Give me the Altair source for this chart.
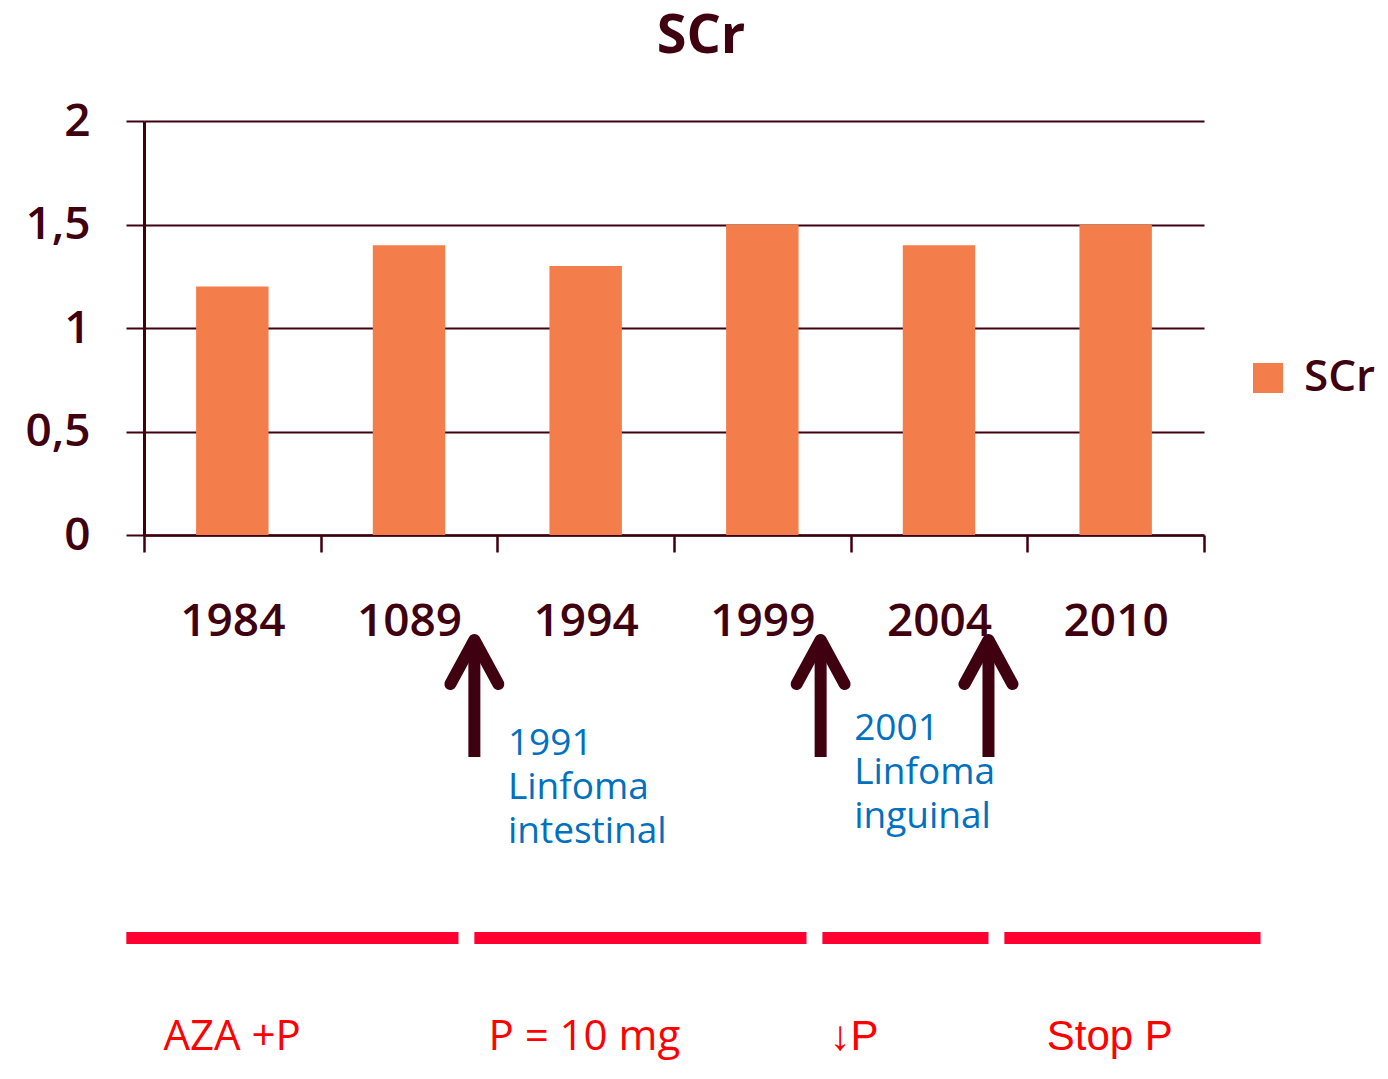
import altair as alt
import pandas as pd

# ---------------- data ----------------
years = ["1984", "1089", "1994", "1999", "2004", "2010"]
scr_values = [1.2, 1.4, 1.3, 1.5, 1.4, 1.5]
series_name = "SCr"
y_ticks = [0, 0.5, 1, 1.5, 2]

# events below the axis (x in "year slot" units 0..6, y in SCr units)
event_x = [1.87, 3.83, 4.78]
event_text = ["1991\nLinfoma\nintestinal", "2001\nLinfoma\ninguinal"]
event_text_x = [2.06, 4.02]
event_text_y = [-1.063, -0.99]

# therapy phases
phase_start = [-0.10, 1.87, 3.84, 4.87]
phase_end = [1.78, 3.75, 4.78, 6.32]
phase_labels = ["AZA +P", "P = 10 mg", "\u2193P", "Stop P"]
phase_label_x = [0.11, 1.95, 3.88, 5.11]
phase_label_sans = [False, False, True, True]

MAROON = "#3F0010"
ORANGE = "#F47E4B"
BLUE = "#0070C0"
RED = "#FF0030"

ARROW_TIP = -0.507
ARROW_BASE = -1.072
ARROW_HEAD = -0.72
ARROW_HALF = 0.136
LINE_Y = -1.947
LABEL_Y = -2.49

bars_df = pd.DataFrame({"year": years, "SCr": scr_values, "serie": [series_name] * len(years)})

shaft_df = pd.DataFrame({"x": event_x, "y0": [ARROW_BASE] * 3, "y1": [ARROW_TIP - 0.03] * 3})
head_rows = []
for i, x in enumerate(event_x):
    head_rows += [
        {"id": i, "o": 0, "x": x - ARROW_HALF, "y": ARROW_HEAD},
        {"id": i, "o": 1, "x": x, "y": ARROW_TIP},
        {"id": i, "o": 2, "x": x + ARROW_HALF, "y": ARROW_HEAD},
    ]
head_df = pd.DataFrame(head_rows)
event_df = pd.DataFrame({"x": event_text_x, "y": event_text_y, "t": event_text})
phase_df = pd.DataFrame({"x0": phase_start, "x1": phase_end, "y": [LINE_Y] * 4})
plabel_df = pd.DataFrame({"x": phase_label_x, "y": [LABEL_Y] * 4, "t": phase_labels,
                          "sans": phase_label_sans})

XQ = alt.Scale(domain=[0, 6], nice=False, zero=False)
YQ = alt.Scale(domain=[0, 2], nice=False, zero=False)

bars = alt.Chart(bars_df).mark_bar(width=alt.RelativeBandSize(0.41)).encode(
    x=alt.X("year:N", sort=years, scale=alt.Scale(paddingInner=0, paddingOuter=0),
            axis=alt.Axis(title=None, labelAngle=0, labelFontSize=46, labelColor=MAROON,
                          labelFont="Open Sans", labelFontWeight=600, labelPadding=47,
                          tickSize=17, tickWidth=2.5, tickColor=MAROON, tickBand="extent",
                          domainColor=MAROON, domainWidth=2.5, grid=False)),
    y=alt.Y("SCr:Q", scale=YQ,
            axis=alt.Axis(values=y_ticks, title=None,
                          labelExpr="replace(toString(datum.value), '.', ',')",
                          labelFontSize=46, labelColor=MAROON, labelFont="Open Sans",
                          labelFontWeight=600, labelPadding=36,
                          tickSize=18, tickWidth=2, tickColor=MAROON,
                          grid=True, gridColor=MAROON, gridWidth=2,
                          domainColor=MAROON, domainWidth=3)),
    color=alt.Color("serie:N", scale=alt.Scale(range=[ORANGE]),
                    legend=alt.Legend(title=None, orient="none", legendX=1102, legendY=235,
                                      symbolType="square", symbolSize=900, symbolStrokeWidth=0,
                                      labelFontSize=44, labelColor=MAROON, labelFont="Open Sans",
                                      labelFontWeight=600, labelOffset=14, padding=0)),
)

shafts = alt.Chart(shaft_df).mark_rule(strokeWidth=12, color=MAROON).encode(
    x=alt.X("x:Q", scale=XQ, axis=None),
    y=alt.Y("y0:Q", scale=YQ, axis=None),
    y2="y1:Q",
)

heads = alt.Chart(head_df).mark_line(strokeWidth=12, strokeCap="round", strokeJoin="round",
                                     color=MAROON).encode(
    x=alt.X("x:Q", scale=XQ, axis=None),
    y=alt.Y("y:Q", scale=YQ, axis=None),
    detail="id:N",
    order="o:Q",
)

events = alt.Chart(event_df).mark_text(align="left", baseline="alphabetic", lineBreak="\n",
                                       lineHeight=44, fontSize=37, font="Open Sans",
                                       color=BLUE).encode(
    x=alt.X("x:Q", scale=XQ, axis=None),
    y=alt.Y("y:Q", scale=YQ, axis=None),
    text="t:N",
)

phases = alt.Chart(phase_df).mark_rule(strokeWidth=12, color=RED).encode(
    x=alt.X("x0:Q", scale=XQ, axis=None),
    x2="x1:Q",
    y=alt.Y("y:Q", scale=YQ, axis=None),
)

plabels_a = alt.Chart(plabel_df).transform_filter("!datum.sans").mark_text(
    align="left", baseline="alphabetic", fontSize=42, font="Open Sans", color="#FF0000"
).encode(
    x=alt.X("x:Q", scale=XQ, axis=None),
    y=alt.Y("y:Q", scale=YQ, axis=None),
    text="t:N",
)

plabels_b = alt.Chart(plabel_df).transform_filter("datum.sans").mark_text(
    align="left", baseline="alphabetic", fontSize=42, font="Liberation Sans", color="#FF0000"
).encode(
    x=alt.X("x:Q", scale=XQ, axis=None),
    y=alt.Y("y:Q", scale=YQ, axis=None),
    text="t:N",
)

chart = alt.layer(bars, shafts, heads, events, phases, plabels_a, plabels_b).resolve_scale(
    x="independent", y="independent"
).properties(
    width=1060, height=414,
    title=alt.TitleParams("SCr", fontSize=54, font="Open Sans", fontWeight="bold",
                          color=MAROON, offset=34, dx=27),
    autosize=alt.AutoSizeParams(type="none"),
    padding={"left": 136, "top": 113, "right": 176, "bottom": 532},
    background="white",
).configure_view(stroke=None)

chart.save("out.html", embed_options={"renderer": "svg", "actions": False})
